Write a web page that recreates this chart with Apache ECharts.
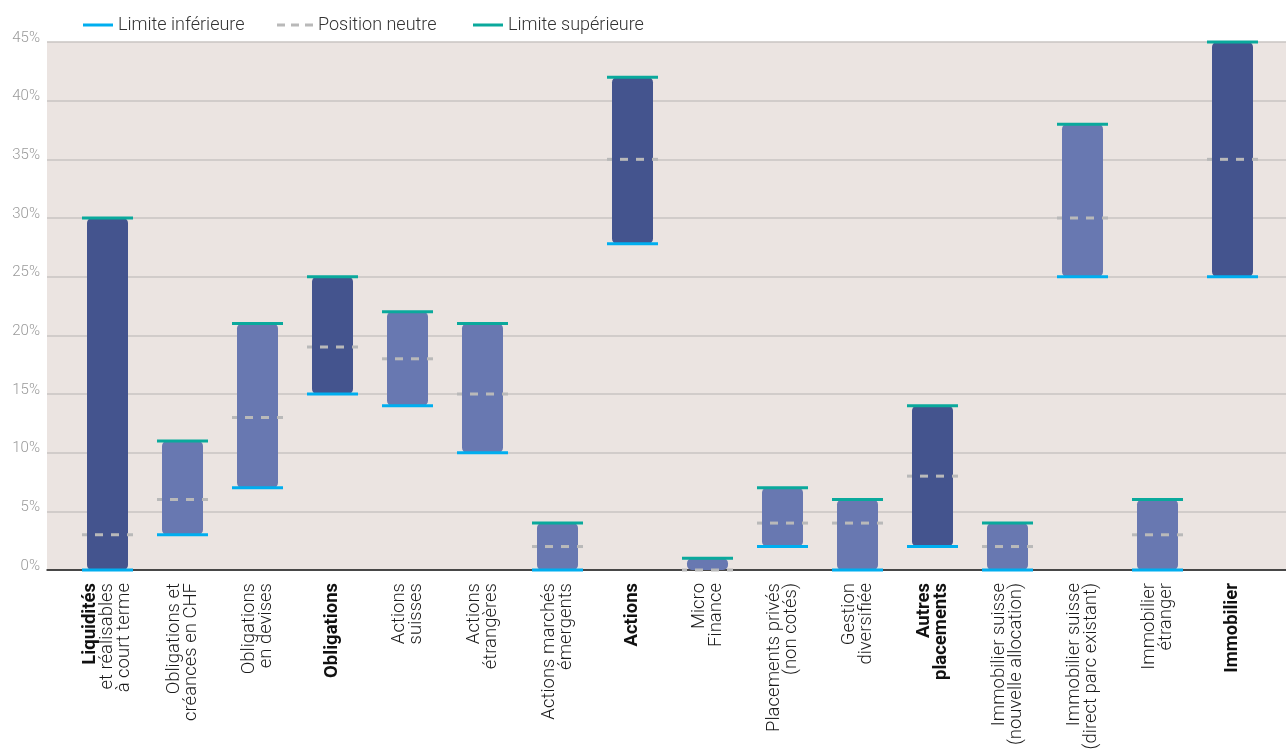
<!DOCTYPE html>
<html>
<head>
<meta charset="utf-8">
<script src="https://cdn.jsdelivr.net/npm/echarts@6/dist/echarts.min.js"></script>
<style>
html,body{margin:0;padding:0;background:#fff;}
#chart{width:1286px;height:751px;}
</style>
</head>
<body>
<div id="chart"></div>
<script>
// ---- data ----
const categories = [
  '{b|Liquidités}\net réalisables\nà court terme',
  'Obligations et\ncréances en CHF',
  'Obligations\nen devises',
  '{b|Obligations}',
  'Actions\nsuisses',
  'Actions\nétrangères',
  'Actions marchés\némergents',
  '{b|Actions}',
  'Micro\nFinance',
  'Placements privés\n(non cotés)',
  'Gestion\ndiversifiée',
  '{b|Autres}\n{b|placements}',
  'Immobilier suisse\n(nouvelle allocation)',
  'Immobilier suisse\n(direct parc existant)',
  'Immobilier\nétranger',
  '{b|Immobilier}'
];
const groupTotal = [1,0,0,1,0,0,0,1,0,0,0,1,0,0,0,1];
const lowerLimit = [0, 3, 7, 15, 14, 10, 0, 27.8, null, 2, 0, 2, 0, 25, 0, 25];
const neutralPos = [3, 6, 13, 19, 18, 15, 2, 35, 0, 4, 4, 8, 2, 30, 3, 35];
const upperLimit = [30, 11, 21, 25, 22, 21, 4, 42, 1, 7, 6, 14, 4, 38, 6, 45];
const rangeLow   = [0, 3, 7, 15, 14, 10, 0, 27.8, 0, 2, 0, 2, 0, 25, 0, 25];
const yTicks = { min: 0, max: 45, interval: 5 };

const DARK = '#44548e', LIGHT = '#6878b1';
const C_LOW = '#00aeef', C_UP = '#0aa99c', C_NEU = '#b9b9b9';
const FONT = 'Roboto';

function capRender(color, dashed) {
  return function (params, api) {
    const v = api.value(1);
    if (v === null || v === undefined || isNaN(v)) return null;
    const p = api.coord([api.value(0), v]);
    return {
      type: 'line',
      shape: { x1: p[0] - 25.5, y1: p[1], x2: p[0] + 25.5, y2: p[1] },
      style: dashed
        ? { stroke: color, lineWidth: 3, lineDash: [8, 8], lineDashOffset: 3 }
        : { stroke: color, lineWidth: 3 }
    };
  };
}

const chart = echarts.init(document.getElementById('chart'), null, { renderer: 'canvas' });
const legendText = { fontSize: 18, color: '#333', fontFamily: FONT, fontWeight: 300 };
const option = {
  animation: false,
  textStyle: { fontFamily: FONT },
  legend: [
    { left: 78, top: 11, itemWidth: 30, itemHeight: 3, icon: 'rect',
      textStyle: legendText, data: ['Limite inférieure'] },
    { left: 272, top: 11, itemWidth: 36, itemHeight: 3,
      icon: 'path://M0,0H8V3H0Z M14,0H22V3H14Z M28,0H36V3H28Z',
      textStyle: legendText, data: ['Position neutre'] },
    { left: 468, top: 11, itemWidth: 30, itemHeight: 3, icon: 'rect',
      textStyle: legendText, data: ['Limite supérieure'] }
  ],
  grid: [
    { left: 47, right: 0, top: 42, bottom: 181, show: true, backgroundColor: '#ebe4e1', borderWidth: 0,
      containLabel: false, outerBoundsMode: 'none' },
    { left: 70, width: 1200, top: 42, bottom: 181, containLabel: false, outerBoundsMode: 'none' }
  ],
  xAxis: [
    { gridIndex: 0, type: 'category', data: [''], axisTick: { show: false }, axisLabel: { show: false },
      axisLine: { show: true, onZero: false, lineStyle: { color: '#1a1a1a', width: 1.5 } } },
    { gridIndex: 1, type: 'category', data: categories, axisTick: { show: false },
      axisLine: { show: false },
      axisLabel: { rotate: 90, margin: 13, interval: 0, fontSize: 18.5, lineHeight: 17,
        color: '#1a1a1a', fontFamily: FONT, fontWeight: 300,
        rich: { b: { fontWeight: 'bold', fontSize: 18.5, color: '#111', fontFamily: FONT, lineHeight: 17 } } } }
  ],
  yAxis: [
    { gridIndex: 0, type: 'value', min: yTicks.min, max: yTicks.max, interval: yTicks.interval,
      axisLine: { show: false }, axisTick: { show: false },
      splitLine: { lineStyle: { color: '#c9c5c2', width: 1.5 } },
      axisLabel: { formatter: '{value}%', color: '#9a9a9a', fontSize: 15, fontWeight: 300,
        fontFamily: FONT, margin: 7, verticalAlign: 'bottom', lineHeight: 8 } },
    { gridIndex: 1, type: 'value', min: yTicks.min, max: yTicks.max, interval: yTicks.interval,
      show: false }
  ],
  series: [
    {
      name: 'range', type: 'custom', xAxisIndex: 1, yAxisIndex: 1,
      data: categories.map((c, i) => [i, rangeLow[i], upperLimit[i], groupTotal[i]]),
      renderItem: function (params, api) {
        const pLow = api.coord([api.value(0), api.value(1)]);
        const pHigh = api.coord([api.value(0), api.value(2)]);
        const w = 41;
        return {
          type: 'rect',
          shape: { x: pLow[0] - w / 2, y: pHigh[1], width: w, height: pLow[1] - pHigh[1], r: 5 },
          style: { fill: api.value(3) ? DARK : LIGHT }
        };
      }
    },
    {
      name: 'Position neutre', type: 'custom', xAxisIndex: 1, yAxisIndex: 1,
      itemStyle: { color: C_NEU },
      data: neutralPos.map((v, i) => [i, v]),
      renderItem: capRender(C_NEU, true)
    },
    {
      name: 'Limite inférieure', type: 'custom', xAxisIndex: 1, yAxisIndex: 1,
      itemStyle: { color: C_LOW },
      data: lowerLimit.map((v, i) => [i, v]),
      renderItem: capRender(C_LOW, false)
    },
    {
      name: 'Limite supérieure', type: 'custom', xAxisIndex: 1, yAxisIndex: 1,
      itemStyle: { color: C_UP },
      data: upperLimit.map((v, i) => [i, v]),
      renderItem: capRender(C_UP, false)
    }
  ]
};
chart.setOption(option);
</script>
</body>
</html>
